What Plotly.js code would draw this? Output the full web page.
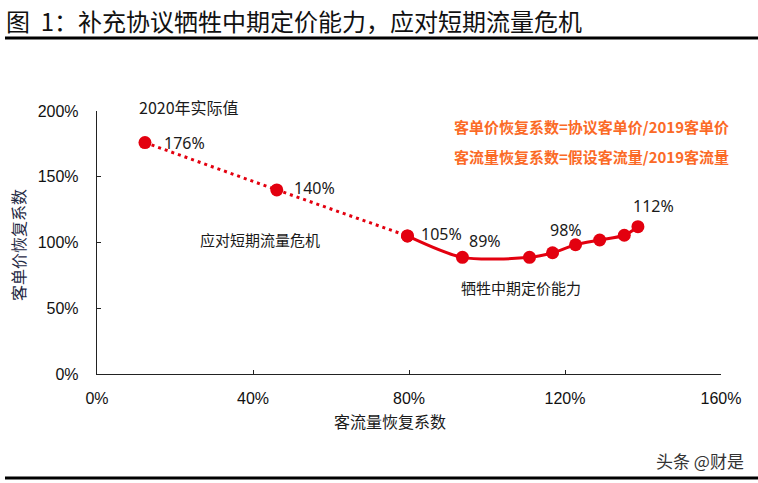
<!DOCTYPE html>
<html>
<head>
<meta charset="utf-8">
<script src="https://cdn.plot.ly/plotly-3.0.1.min.js"></script>
<style>
  html, body { margin: 0; padding: 0; background: #fff; }
  #graph { width: 758px; height: 483px; }
</style>
</head>
<body>
<div id="graph"></div>
<script>
// 客流量恢复系数 (x) / 客单价恢复系数 (y), in %
const flowCoef  = [12.3, 46.1, 79.6, 93.7, 110.9, 116.8, 122.7, 128.9, 135.2, 138.7]
const priceCoef = [176, 140, 105, 88.7, 88.7, 92.2, 98.3, 101.9, 105.5, 112]
const pointLabels = ['176%', '140%', '105%', '89%', '', '', '98%', '', '', '112%']

const xTicks = [0, 40, 80, 120, 160]
const yTicks = [0, 50, 100, 150, 200]

// label offsets in pixels (xanchor, xshift, yshift)
const labelPlace = [
    ['left', 17, 0],
    ['left', 15, 2],
    ['left', 12, 2],
    ['center', 23, 16],
    null, null,
    ['center', -10, 15],
    null, null,
    ['center', 16, 21]
]

const red = '#e3000f'
const orange = '#fb6a26'
const cjk = '"Noto Sans CJK SC", "Noto Sans", sans-serif'
const plotL = 97, plotR = 721, plotT = 111, plotB = 374

function px(x) { return (x - plotL) / (plotR - plotL) }
function py(y) { return (plotB - y) / (plotB - plotT) }
function pct(v) { return v + '%' }

let data = [
    {
        type: 'scatter',
        mode: 'lines+markers',
        x: flowCoef.slice(0, 3),
        y: priceCoef.slice(0, 3),
        line: {color: red, width: 3, dash: '3px,4px'},
        marker: {color: red, size: 13},
        hoverinfo: 'skip'
    },
    {
        type: 'scatter',
        mode: 'lines+markers',
        x: flowCoef.slice(2),
        y: priceCoef.slice(2),
        line: {color: red, width: 3, shape: 'spline', smoothing: 0.8},
        marker: {color: red, size: 13},
        hoverinfo: 'skip'
    }
]

let annotations = []
pointLabels.forEach(function (t, i) {
    if (!t) return
    let p = labelPlace[i]
    annotations.push({
        x: flowCoef[i], y: priceCoef[i], xref: 'x', yref: 'y',
        text: t, showarrow: false,
        xanchor: p[0], yanchor: 'middle', xshift: p[1], yshift: p[2],
        font: {family: '"Noto Sans", sans-serif', size: 16, color: '#1a1a1a'}
    })
})

function note(text, x, y, opts) {
    annotations.push(Object.assign({
        xref: 'paper', yref: 'paper', x: px(x), y: py(y),
        text: text, showarrow: false, xanchor: 'center', yanchor: 'middle',
        font: {family: cjk, size: 15, color: '#1a1a1a'}
    }, opts || {}))
}

note('图  1：补充协议牺牲中期定价能力，应对短期流量危机', 4, 21,
    {xanchor: 'left', font: {family: cjk, size: 24, color: '#111'}})
note('2020年实际值', 189, 107, {font: {family: cjk, size: 16, color: '#1a1a1a'}})
note('应对短期流量危机', 260, 239)
note('牺牲中期定价能力', 521, 287)
note('<b>客单价恢复系数=协议客单价/2019客单价</b>', 731, 126,
    {xanchor: 'right', font: {family: cjk, size: 15, color: orange}})
note('<b>客流量恢复系数=假设客流量/2019客流量</b>', 731, 156,
    {xanchor: 'right', font: {family: cjk, size: 15, color: orange}})
note('客流量恢复系数', 390, 421, {font: {family: cjk, size: 16, color: '#1a1a1a'}})
note('客单价恢复系数', 18, 245, {textangle: -90, font: {family: cjk, size: 16, color: '#1f2a44'}})
note('头条 @财是', 746, 460, {xanchor: 'right', font: {family: cjk, size: 17, color: '#333'}})

let axisCommon = {
    showgrid: false,
    zeroline: false,
    showline: true,
    linecolor: '#222',
    linewidth: 1.2,
    ticks: 'inside',
    ticklen: 4,
    tickcolor: '#222',
    tickmode: 'array',
    tickfont: {family: 'Arial, "Liberation Sans", sans-serif', size: 16, color: '#111'},
    fixedrange: true
}

let layout = {
    width: 758,
    height: 483,
    margin: {l: plotL, r: 758 - plotR, t: plotT, b: 483 - plotB, pad: 0},
    paper_bgcolor: '#fff',
    plot_bgcolor: '#fff',
    showlegend: false,
    xaxis: Object.assign({}, axisCommon, {
        range: [0, 160], tickvals: xTicks, ticktext: xTicks.map(pct), ticklabelstandoff: 10
    }),
    yaxis: Object.assign({}, axisCommon, {
        range: [0, 200], tickvals: yTicks, ticktext: yTicks.map(pct), ticklabelstandoff: 14
    }),
    annotations: annotations,
    shapes: [
        {type: 'line', xref: 'paper', yref: 'paper', x0: px(5), x1: px(758), y0: py(38), y1: py(38),
            line: {color: '#000', width: 3}},
        {type: 'line', xref: 'paper', yref: 'paper', x0: px(5), x1: px(758), y0: py(478), y1: py(478),
            line: {color: '#000', width: 3}}
    ]
}

Plotly.newPlot('graph', data, layout, {displayModeBar: false, staticPlot: true})
</script>
</body>
</html>
